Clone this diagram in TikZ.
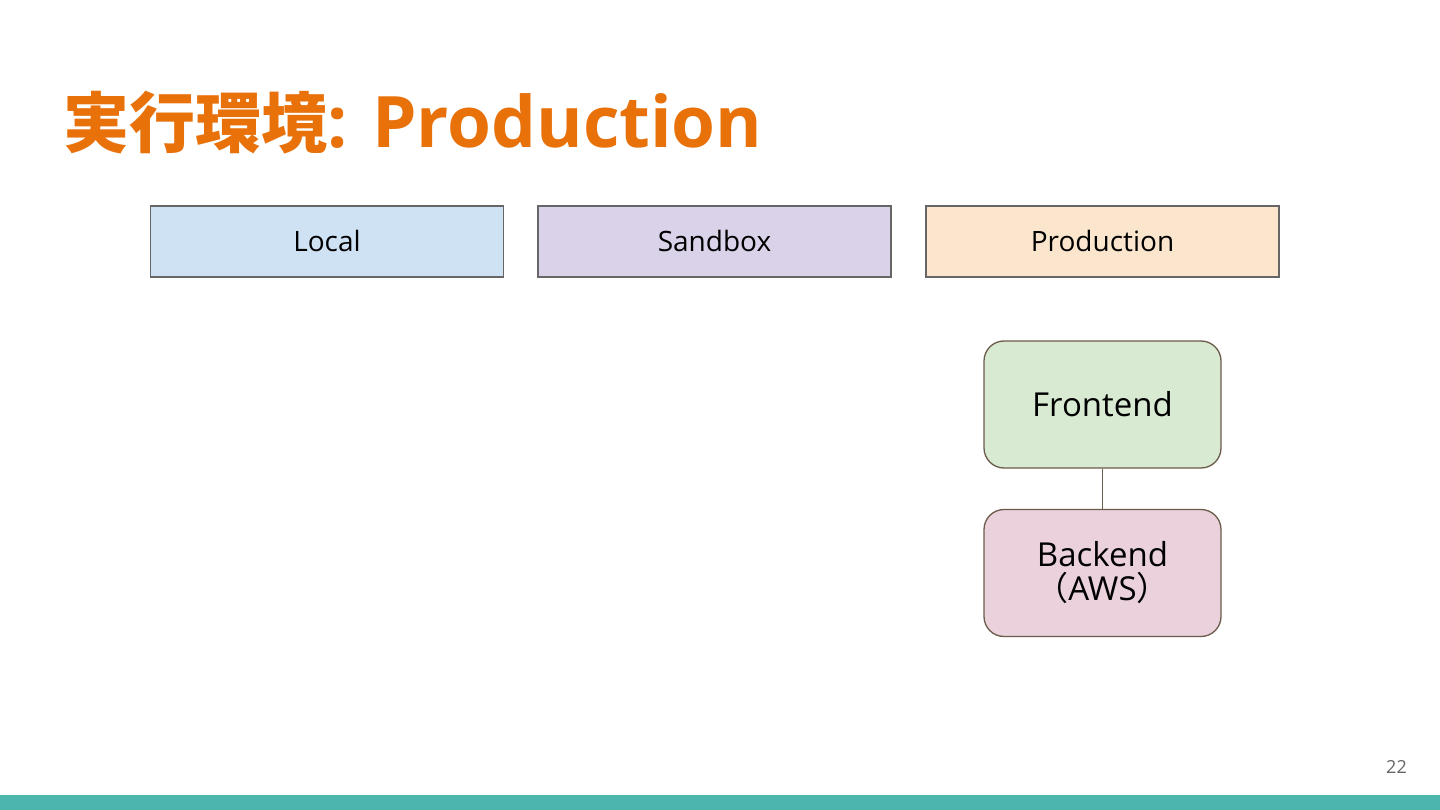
\documentclass[tikz,border=0pt]{standalone}
\usepackage{fontspec}
\setmainfont{Open Sans}
\newfontfamily\cjk{Noto Sans CJK JP}
\definecolor{titleorange}{HTML}{E8710A}
\definecolor{bordergray}{HTML}{666666}
\definecolor{localblue}{HTML}{CFE2F3}
\definecolor{sandpurple}{HTML}{D9D2E9}
\definecolor{prodorange}{HTML}{FCE5CD}
\definecolor{frontgreen}{HTML}{D9EAD3}
\definecolor{backpink}{HTML}{EAD1DC}
\definecolor{boxline}{HTML}{6B5B4B}
\definecolor{teal}{HTML}{4DB6AC}
\definecolor{pagegray}{HTML}{666666}
\tikzset{
  envbox/.style={draw=bordergray, line width=1.1pt, minimum width=353pt, minimum height=71pt, inner sep=0pt, font=\fontsize{28}{32}\selectfont},
  svcbox/.style={draw=boxline, line width=1.3pt, rounded corners=20pt, minimum width=237pt, minimum height=127pt, inner sep=0pt, align=center, font=\fontsize{33}{34}\selectfont},
  link/.style={draw=boxline, line width=1.3pt}
}
\begin{document}
\begin{tikzpicture}[x=1pt,y=-1pt]
\useasboundingbox (0,0) rectangle (1440,810);
\fill[white] (0,0) rectangle (1440,810);
\node[anchor=base west, inner sep=0pt, text=titleorange, font=\bfseries\fontsize{71}{74}\selectfont] (title) at (63,148) {{\cjk\bfseries\fontsize{66}{70}\selectfont 実行環境}: Production};
\node[envbox, fill=localblue] (local) at (327,241.5) {Local};
\node[envbox, fill=sandpurple] (sandbox) at (714.5,241.5) {Sandbox};
\node[envbox, fill=prodorange] (prod) at (1102.5,241.5) {Production};
\node[svcbox, fill=frontgreen] (front) at (1102.5,404.5) {Frontend};
\node[svcbox, fill=backpink] (back) at (1102.5,573) {Backend\\{\cjk （}AWS{\cjk ）}};
\draw[link] (front) -- (back);
\node[anchor=base east, inner sep=0pt, text=pagegray, font=\fontsize{18}{20}\selectfont] (page) at (1407,773) {22};
\fill[teal] (0,795) rectangle (1440,810);
\end{tikzpicture}
\end{document}
